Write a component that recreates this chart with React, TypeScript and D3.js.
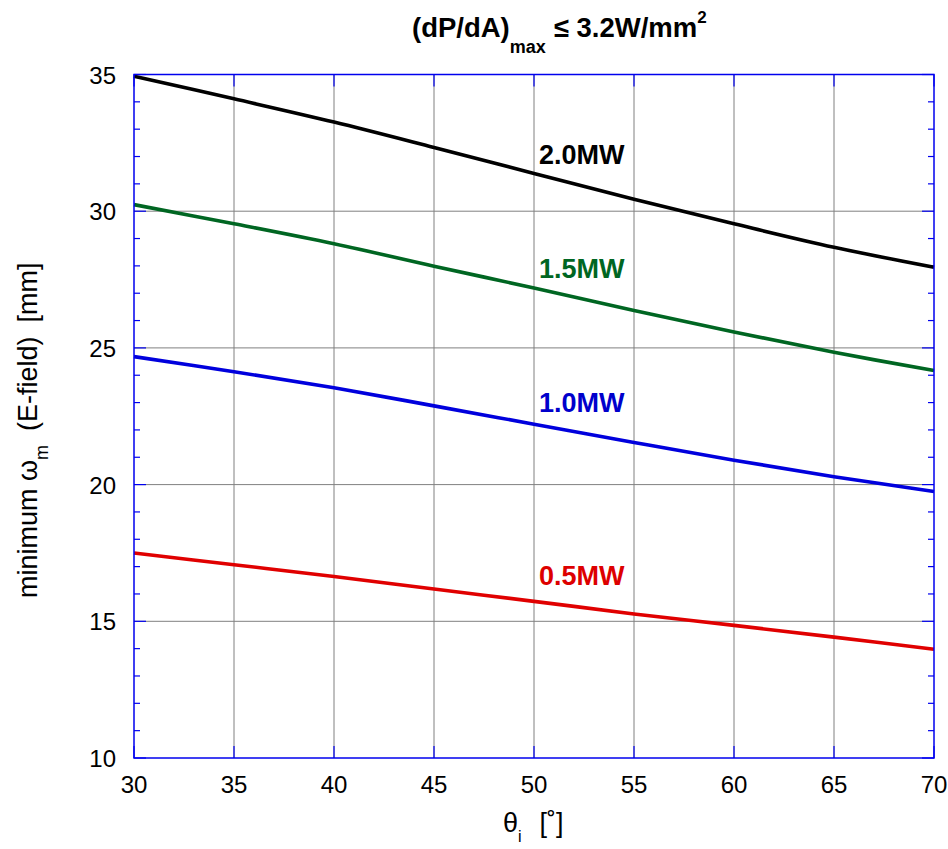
import React from "react";
import * as d3 from "d3";

const thetas = [30, 35, 40, 45, 50, 55, 60, 65, 70];
const p20 = [34.94, 34.11, 33.26, 32.33, 31.38, 30.44, 29.54, 28.68, 27.95];
const p15 = [30.24, 29.54, 28.81, 27.99, 27.19, 26.37, 25.58, 24.84, 24.17];
const p10 = [24.68, 24.13, 23.54, 22.88, 22.21, 21.54, 20.89, 20.29, 19.75];
const p05 = [17.5, 17.07, 16.64, 16.18, 15.73, 15.27, 14.85, 14.42, 13.98];

const seriesNames = ["2.0MW", "1.5MW", "1.0MW", "0.5MW"];
const seriesColors = ["#000000", "#006622", "#0000dd", "#e00000"];
const labelColors = ["#000000", "#006622", "#0000cc", "#dd0000"];
const labelX = 50.25;
const labelY = [31.73, 27.56, 22.66, 16.33];

const xTicks = [30, 35, 40, 45, 50, 55, 60, 65, 70];
const yTicks = [10, 15, 20, 25, 30, 35];
const yMinor = d3.range(10, 35.001, 1);

const W = 948;
const H = 849;
const FONT = "'Liberation Sans', Arial, sans-serif";
const FRAME = "#0000ee";

export default function App() {
  const x = d3.scaleLinear().domain([30, 70]).range([134, 934]);
  const y = d3.scaleLinear().domain([10, 35]).range([758, 74.5]);
  const allSeries = [p20, p15, p10, p05];
  const line = d3
    .line<number>()
    .x((_, i) => x(thetas[i]))
    .y((d) => y(d))
    .curve(d3.curveCatmullRom.alpha(0.5));

  const [x0, x1] = x.range();
  const [y0, y1] = y.range();

  return (
    <svg
      width={W}
      height={H}
      style={{ position: "absolute", left: 0, top: 0, background: "#fff" }}
      fontFamily={FONT}
    >
      <rect x={0} y={0} width={W} height={H} fill="#fff" />
      {xTicks.slice(1, -1).map((t) => (
        <line key={"gx" + t} x1={x(t)} x2={x(t)} y1={y1} y2={y0} stroke="#808080" strokeWidth={1} />
      ))}
      {yTicks.slice(1, -1).map((t) => (
        <line key={"gy" + t} x1={x0} x2={x1} y1={y(t)} y2={y(t)} stroke="#808080" strokeWidth={1} />
      ))}
      {yMinor.map((t) => {
        const major = Math.abs(t % 5) < 1e-6;
        const len = major ? 12 : 6;
        return (
          <g key={"yt" + t}>
            <line x1={x0} x2={x0 + len} y1={y(t)} y2={y(t)} stroke={FRAME} strokeWidth={1.2} />
            <line x1={x1} x2={x1 - len} y1={y(t)} y2={y(t)} stroke={FRAME} strokeWidth={1.2} />
          </g>
        );
      })}
      {xTicks.map((t) => (
        <g key={"xt" + t}>
          <line x1={x(t)} x2={x(t)} y1={y0} y2={y0 - 12} stroke={FRAME} strokeWidth={1.2} />
          <line x1={x(t)} x2={x(t)} y1={y1} y2={y1 + 12} stroke={FRAME} strokeWidth={1.2} />
        </g>
      ))}
      {allSeries.map((s, i) => (
        <path key={"s" + i} d={line(s) || ""} fill="none" stroke={seriesColors[i]} strokeWidth={3.6} />
      ))}
      <rect x={x0} y={y1} width={x1 - x0} height={y0 - y1} fill="none" stroke={FRAME} strokeWidth={1.5} />
      {seriesNames.map((n, i) => (
        <text key={"l" + i} x={x(labelX)} y={y(labelY[i])} fontSize={27} fontWeight="bold" fill={labelColors[i]}>
          {n}
        </text>
      ))}
      {xTicks.map((t) => (
        <text key={"xl" + t} x={x(t)} y={793} fontSize={24} textAnchor="middle" fill="#000">
          {t}
        </text>
      ))}
      {yTicks.map((t) => (
        <text key={"yl" + t} x={116} y={y(t) + 9} fontSize={24} textAnchor="end" fill="#000">
          {t}
        </text>
      ))}
      <text x={412} y={37} fontSize={27.5} fontWeight="bold" fill="#000" xmlSpace="preserve">
        <tspan>(dP/dA)</tspan>
        <tspan fontSize={18} dy={16}>max</tspan>
        <tspan dx={8} dy={-16}>≤ 3.2W/mm</tspan>
        <tspan fontSize={17} dy={-14}>2</tspan>
      </text>
      <text x={503} y={832} fontSize={27} fill="#000" xmlSpace="preserve">
        <tspan>θ</tspan>
        <tspan fontSize={16} dy={10}>i</tspan>
        <tspan dx={18} dy={-10}>[˚]</tspan>
      </text>
      <text
        transform={`translate(37,598) rotate(-90)`}
        x={0}
        y={0}
        fontSize={27}
        fill="#000"
        xmlSpace="preserve"
      >
        <tspan>minimum ω</tspan>
        <tspan fontSize={18} dy={11}>m</tspan>
        <tspan dx={14} dy={-11}>(E-field)</tspan>
        <tspan dx={14}>[mm]</tspan>
      </text>
    </svg>
  );
}
